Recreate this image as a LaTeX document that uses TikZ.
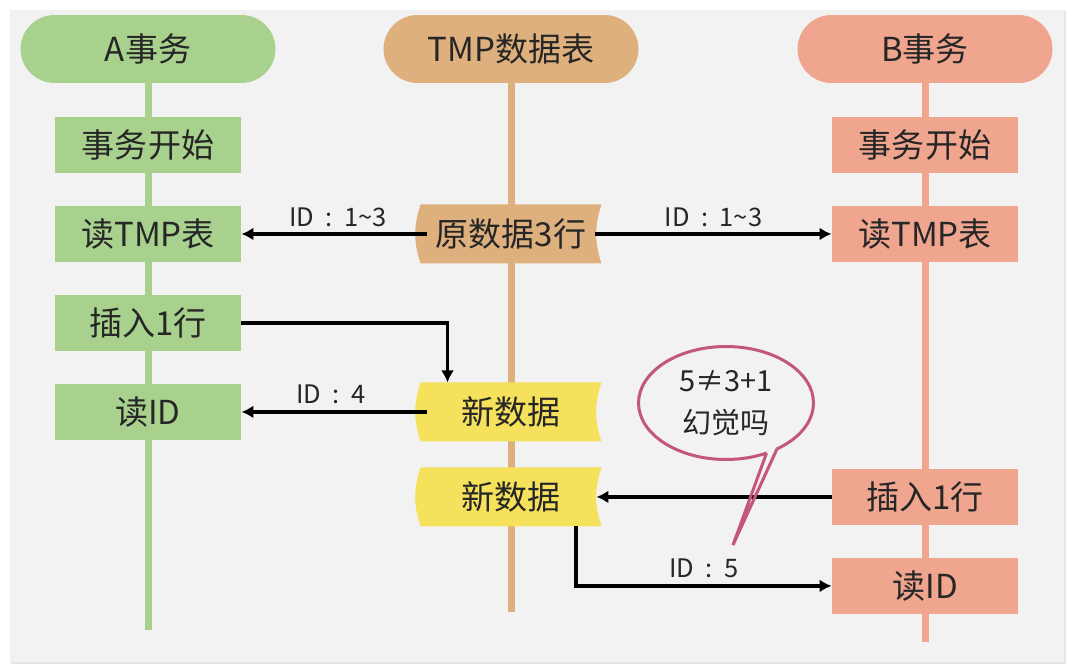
\documentclass[tikz,border=0pt]{standalone}
\usepackage{fontspec}
\setmainfont{Noto Sans CJK SC}
\usetikzlibrary{arrows.meta,positioning,backgrounds,calc,shapes.geometric}
\definecolor{bgGray}{HTML}{F2F2F2}
\definecolor{aGreen}{HTML}{A9D18E}
\definecolor{tmpTan}{HTML}{DEB07E}
\definecolor{bSalmon}{HTML}{F0A68E}
\definecolor{newYellow}{HTML}{F6E15C}
\definecolor{bubblePink}{HTML}{C2567F}
\definecolor{textDark}{HTML}{262626}
\tikzset{%
  >={Latex[width=2.6mm,length=2.4mm]},
  % Specifications for style of nodes:
         base/.style = {rectangle, text=textDark, inner sep=0pt, outer sep=0pt,
                        font=\fontsize{18.8}{22}\selectfont,
                        text height=16.5pt, text depth=2.3pt},
       header/.style = {base, rounded corners=0.68cm,
                        minimum width=5.1cm, minimum height=1.36cm},
      stepbox/.style = {base, minimum width=3.74cm, minimum height=1.12cm},
    datashape/.style = {base, minimum width=3.62cm, minimum height=1.18cm},
       bubble/.style = {ellipse, draw=bubblePink, line width=0.06cm, outer sep=0pt,
                        fill=bgGray, text=textDark, align=center, inner sep=0pt,
                        minimum width=3.5cm, minimum height=2.26cm,
                        font=\fontsize{16.5}{24}\selectfont},
     lifeline/.style = {line width=0.14cm},
      message/.style = {->, line width=0.07cm, black},
      idlabel/.style = {above, text=textDark, font=\fontsize{14.5}{16}\selectfont},
}

\begin{document}
\begin{tikzpicture}[x=0.02cm, y=-0.02cm, node distance=1.78cm]
  \useasboundingbox (0,0) rectangle (1074,672);
  % Specification of nodes (position, etc.)
  \node (aHead)   [header, fill=aGreen]  at (148,49) {A事务};
  \node (tmpHead) [header, fill=tmpTan]  at (511,49) {TMP数据表};
  \node (bHead)   [header, fill=bSalmon] at (925,49) {B事务};

  \node (aStart) [stepbox, fill=aGreen, below of=aHead, yshift=-0.14cm] {事务开始};
  \node (aRead)  [stepbox, fill=aGreen, below of=aStart] {读TMP表};
  \node (aIns)   [stepbox, fill=aGreen, below of=aRead]  {插入1行};
  \node (aID)    [stepbox, fill=aGreen, below of=aIns]   {读ID};

  \node (bStart) [stepbox, fill=bSalmon, below of=bHead, yshift=-0.14cm] {事务开始};
  \node (bRead)  [stepbox, fill=bSalmon, below of=bStart] {读TMP表};
  \node (bIns)   [stepbox, fill=bSalmon, below of=bRead, yshift=-3.48cm] {插入1行};
  \node (bID)    [stepbox, fill=bSalmon, below of=bIns]  {读ID};

  \node (tOrig) [datashape] at (tmpHead |- aRead) {原数据3行};
  \node (tNew1) [datashape] at (tmpHead |- aID)   {新数据};
  \node (tNew2) [datashape] at (tmpHead |- bIns)  {新数据};

  \coordinate (aEnd)   at (148,630);
  \coordinate (tmpEnd) at (511,612);
  \coordinate (bEnd)   at (925,642);
  \coordinate (tip)    at (733,545);

  % background, lifelines and data shapes
  \begin{scope}[on background layer]
    \fill[white] (0,0) rectangle (1074,672);
    \fill[black!10] (11,11) rectangle (1066,664);
    \fill[bgGray] (10,10) rectangle (1064,662);
    \draw[lifeline, aGreen]  (aHead)   -- (aEnd);
    \draw[lifeline, tmpTan]  (tmpHead) -- (tmpEnd);
    \draw[lifeline, bSalmon] (bHead)   -- (bEnd);
    \foreach \n/\c in {tOrig/tmpTan, tNew1/newYellow, tNew2/newYellow}
      \fill[\c] (\n.north west) to[bend right=18] (\n.south west)
        -- (\n.south east) to[bend left=18] (\n.north east) -- cycle;
  \end{scope}

  \node (note) [bubble] at (726,403) {5≠3+1\\幻觉吗};

  % Specification of lines between nodes specified above
  \draw[message, shorten <=-0.12cm] (tOrig.west) -- node[idlabel, xshift=0.14cm]{ID\hspace{0.45em}:\hspace{0.45em}1\textasciitilde 3} (aRead.east);
  \draw[message] ([xshift=-0.12cm]tOrig.east) -- node[idlabel]{ID\hspace{0.45em}:\hspace{0.45em}1\textasciitilde 3} (bRead.west);
  \draw[message] (aIns.east) -| ([xshift=0.54cm]tNew1.north west);
  \draw[message, shorten <=-0.12cm] (tNew1.west) -- node[idlabel]{ID\hspace{0.45em}:\hspace{0.45em}4} (aID.east);
  \draw[message] (bIns.west) -- ([xshift=-0.1cm]tNew2.east);
  \draw[message] ([xshift=-0.51cm]tNew2.south east) |- node[idlabel, pos=0.75]{ID\hspace{0.45em}:\hspace{0.45em}5} (bID.west);

  % tail of the speech bubble
  \fill[bgGray] (note.-51) -- ($(note.-51)!0.15!(tip)$) -- ($(note.-42)!0.15!(tip)$)
    -- (note.-42) -- ($(note.center)!0.85!(note.-46)$) -- cycle;
  \draw[bubblePink, line width=0.06cm] (note.-51) -- (tip) -- (note.-42);
\end{tikzpicture}
\end{document}
